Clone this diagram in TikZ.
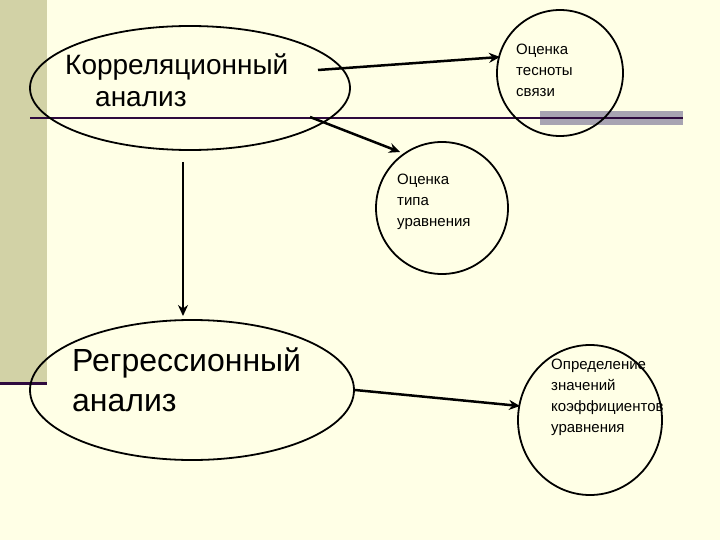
\documentclass[tikz,border=0pt]{standalone}
\usepackage{fontspec}
\setmainfont{Liberation Sans}
\usetikzlibrary{arrows.meta,shapes.geometric}
\definecolor{bg}{HTML}{FFFFE6}
\definecolor{strip}{HTML}{D2D2A6}
\definecolor{purp}{HTML}{2E0A3E}
\definecolor{barc}{HTML}{A8A4B2}
\begin{document}
\begin{tikzpicture}[x=1pt,y=-1pt,
  oval/.style={draw,line width=1.8pt},
  arr/.style={line width=2.5pt,-{Stealth[length=11pt,width=10pt]}},
  small/.style={font=\fontsize{15}{21}\selectfont,align=left,anchor=north west,inner sep=0}]
\fill[bg] (0,0) rectangle (720,540);
\useasboundingbox (0,0) rectangle (720,540);
\fill[strip] (0,0) rectangle (47,382);
\draw[purp,line width=3pt] (0,383) -- (47,383);
\fill[barc] (540,111) rectangle (683,125);
\draw[line width=1.2pt,purp] (30,118) -- (683,118);
\node[oval,ellipse,minimum width=320,minimum height=124] (k) at (190,88) {};
\node[oval,circle,minimum size=126] (t) at (560,73) {};
\node[oval,circle,minimum size=132] (u) at (442,208) {};
\node[oval,ellipse,minimum width=324,minimum height=140] (r) at (192,390) {};
\node[oval,ellipse,minimum width=144,minimum height=150] (o) at (590,420) {};
\node[anchor=north west,inner sep=0,font=\fontsize{28}{32}\selectfont,align=left] (kt) at (65,54) {Корреляционный\\\hspace*{30pt}анализ};
\node[anchor=north west,inner sep=0,font=\fontsize{32}{40}\selectfont,align=left] (rt) at (72,348) {Регрессионный\\анализ};
\node[small] (tt) at (516,44) {Оценка\\тесноты\\связи};
\node[small] (ut) at (397,174) {Оценка\\типа\\уравнения};
\node[small] (ot) at (551,359) {Определение\\значений\\коэффициентов\\уравнения};
\coordinate (a1) at (318,70);
\coordinate (e1) at (500,57);
\coordinate (a2) at (310,117);
\coordinate (e2) at (400,152);
\coordinate (a3) at (183,162);
\coordinate (e3) at (183,316);
\coordinate (a4) at (355,390);
\coordinate (e4) at (520,406);
\draw[arr] (a1) -- (e1);
\draw[arr] (a2) -- (e2);
\draw[arr] (a3) -- (e3);
\draw[arr] (a4) -- (e4);
\end{tikzpicture}
\end{document}
